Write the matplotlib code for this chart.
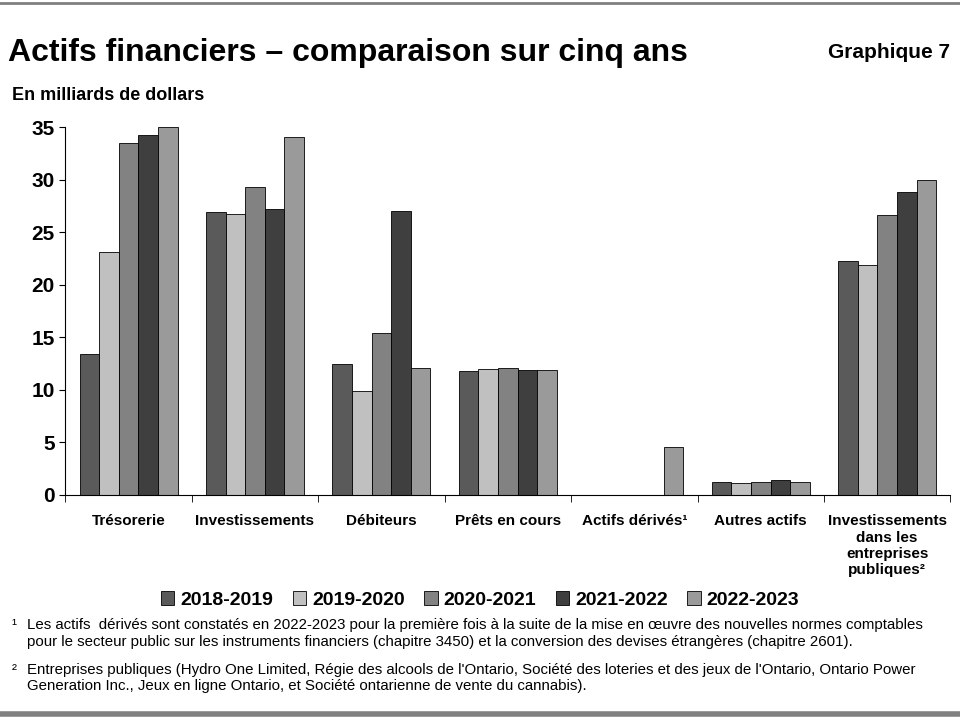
import matplotlib
matplotlib.use("Agg")
import matplotlib.pyplot as plt
import numpy as np

plt.rcParams["font.family"] = "Liberation Sans"

categories = ["Trésorerie", "Investissements", "Débiteurs", "Prêts en cours",
              "Actifs dérivés¹", "Autres actifs",
              "Investissements\ndans les\nentreprises\npubliques²"]
years = ["2018-2019", "2019-2020", "2020-2021", "2021-2022", "2022-2023"]
values = {
    "2018-2019": [13.4, 26.9, 12.5, 11.8, 0, 1.2, 22.3],
    "2019-2020": [23.1, 26.7, 9.9, 12.0, 0, 1.1, 21.9],
    "2020-2021": [33.5, 29.3, 15.4, 12.1, 0, 1.2, 26.6],
    "2021-2022": [34.2, 27.2, 27.0, 11.9, 0, 1.4, 28.8],
    "2022-2023": [35.0, 34.1, 12.1, 11.9, 4.6, 1.2, 30.0],
}
colors = ["#5a5a5a", "#c0c0c0", "#828282", "#3f3f3f", "#9a9a9a"]

fig = plt.figure(figsize=(9.6, 7.2), dpi=100)
ax = fig.add_axes([0.068, 0.3125, 0.922, 0.511])
x = np.arange(len(categories))
w = 0.155
for i, y in enumerate(years):
    ax.bar(x + (i - 2) * w, values[y], w, color=colors[i], edgecolor="black",
           linewidth=0.6, label=y)
ax.set_xlim(-0.5, len(categories) - 0.5)
ax.set_ylim(0, 35)
ax.set_yticks(range(0, 36, 5))
ax.tick_params(axis="y", labelsize=15, direction="out", length=4)
for t in ax.get_yticklabels():
    t.set_fontweight("bold")
ax.set_xticks(x)
ax.set_xticklabels(categories, fontsize=11, fontweight="bold", va="top")
ax.set_xticks(np.arange(-0.5, len(categories), 1), minor=True)
ax.tick_params(axis="x", which="major", length=0, pad=14)
ax.tick_params(axis="x", which="minor", length=5, direction="out")
for s in ["top", "right"]:
    ax.spines[s].set_visible(False)

fig.text(0.008, 0.927, "Actifs financiers – comparaison sur cinq ans", fontsize=23,
         fontweight="bold", va="center")
fig.text(0.99, 0.927, "Graphique 7", fontsize=15, fontweight="bold", ha="right", va="center")
fig.text(0.012, 0.867, "En milliards de dollars", fontsize=13, fontweight="bold", va="center")

fig.legend(loc="center", bbox_to_anchor=(0.5, 0.167), ncol=5, frameon=False,
           prop={"size": 14, "weight": "bold"}, handlelength=0.7, handleheight=0.7,
           handletextpad=0.3, columnspacing=1.0)

fig.text(0.012, 0.132, "¹", fontsize=11, va="center")
fig.text(0.028, 0.12, "Les actifs  dérivés sont constatés en 2022-2023 pour la première fois à la suite de la mise en œuvre des nouvelles normes comptables\n"
         "pour le secteur public sur les instruments financiers (chapitre 3450) et la conversion des devises étrangères (chapitre 2601).",
         fontsize=10.8, va="center", linespacing=1.2)
fig.text(0.012, 0.07, "²", fontsize=11, va="center")
fig.text(0.028, 0.058, "Entreprises publiques (Hydro One Limited, Régie des alcools de l'Ontario, Société des loteries et des jeux de l'Ontario, Ontario Power\n"
         "Generation Inc., Jeux en ligne Ontario, et Société ontarienne de vente du cannabis).",
         fontsize=10.8, va="center", linespacing=1.2)

fig.add_artist(plt.Line2D([0, 1], [0.996, 0.996], color="#808080", lw=2))
fig.add_artist(plt.Line2D([0, 1], [0.008, 0.008], color="#808080", lw=4))
fig.savefig("out.png", dpi=100)
